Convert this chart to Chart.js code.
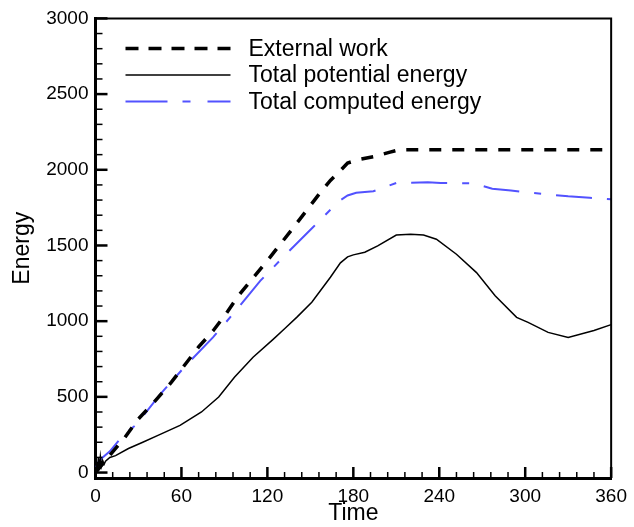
<!DOCTYPE html>
<html lang="en">

<head>
    <meta charset="UTF-8">
    <title>Energy vs Time</title>
    <script src="https://cdn.jsdelivr.net/npm/chart.js"></script>
    <style>
        body {
            margin: 0;
            background: #fff;
        }

        #chart {
            display: block;
        }
    </style>
</head>

<body>
    <canvas id="chart" width="634" height="527"></canvas>

    <script>
        // tick labels
        const xTicks = [0, 60, 120, 180, 240, 300, 360];
        const yTicks = [0, 500, 1000, 1500, 2000, 2500, 3000];

        // External work (black dashed)
        const workTime = [0, 10, 20, 30, 41, 53, 62, 72, 82, 91, 100, 121, 139, 157, 164, 170, 176, 184, 195, 205, 212, 240, 300, 360];
        const workEnergy = [0, 115, 225, 355, 466, 597, 707, 830, 935, 1047, 1171, 1412, 1628, 1850, 1930, 1985, 2045, 2068, 2088, 2115, 2132, 2132, 2132, 2132];

        // Total potential energy (black solid)
        const potTime = [0, 0.7, 1.3, 2, 2.7, 3.4, 4.2, 5, 6, 7, 10, 14, 23, 33, 44, 59, 74, 86, 97, 110, 124, 132, 141, 151, 164, 171, 176, 180, 188, 197, 210, 220, 229, 238, 252, 266, 279, 294, 302, 316, 330, 348, 360];
        const potEnergy = [0, 70, 15, 95, 30, 105, 45, 80, 55, 75, 100, 112, 159, 200, 247, 312, 400, 499, 630, 762, 880, 950, 1030, 1125, 1290, 1385, 1425, 1438, 1455, 1497, 1569, 1574, 1569, 1541, 1442, 1321, 1168, 1025, 992, 926, 893, 938, 977];

        // Total computed energy (blue dash-dot)
        const compTime = [0, 2, 5, 10, 20, 28, 45, 62, 82, 98, 115, 133, 152, 170, 176, 182, 194, 210, 232, 241, 264, 277, 290, 300, 312, 330, 345, 360];
        const compEnergy = [30, 70, 100, 140, 255, 312, 515, 696, 893, 1069, 1266, 1442, 1622, 1793, 1830, 1848, 1858, 1913, 1917, 1913, 1911, 1875, 1863, 1852, 1841, 1825, 1815, 1806];

        const seriesNames = ['External work', 'Total potential energy', 'Total computed energy'];

        const toPoints = (xs, ys) => xs.map((t, i) => ({ x: t, y: ys[i] }));

        Chart.defaults.font.family = '"Liberation Sans", Arial, sans-serif';
        Chart.defaults.color = '#000';

        // frame on top/right and inward tick marks
        const frameTicks = {
            id: 'frameTicks',
            afterDraw(chart) {
                const { ctx, chartArea: a, scales: { x, y } } = chart;
                ctx.save();
                ctx.strokeStyle = '#000';
                ctx.lineWidth = 2;
                ctx.beginPath();
                ctx.moveTo(a.left, a.top);
                ctx.lineTo(a.right, a.top);
                ctx.lineTo(a.right, a.bottom);
                ctx.stroke();

                for (let v = 0; v <= 360; v += 12) {
                    const px = x.getPixelForValue(v);
                    const major = v % 60 === 0;
                    ctx.lineWidth = major ? 2.5 : 1.5;
                    ctx.beginPath();
                    ctx.moveTo(px, a.bottom);
                    ctx.lineTo(px, a.bottom - (major ? 11 : 6));
                    ctx.stroke();
                }
                for (let v = 0; v <= 3000; v += 100) {
                    const py = y.getPixelForValue(v);
                    const major = v % 500 === 0;
                    ctx.lineWidth = major ? 2.5 : 1.5;
                    ctx.beginPath();
                    ctx.moveTo(a.left, py);
                    ctx.lineTo(a.left + (major ? 12 : 7), py);
                    ctx.stroke();
                }
                ctx.restore();
            }
        };

        // legend drawn inside the plot, upper left
        const innerLegend = {
            id: 'innerLegend',
            afterDraw(chart) {
                const { ctx, chartArea: a } = chart;
                ctx.save();
                ctx.font = '23px "Liberation Sans", Arial, sans-serif';
                ctx.textBaseline = 'middle';
                ctx.fillStyle = '#000';
                chart.data.datasets.forEach((ds, i) => {
                    const yy = a.top + 30 + i * 26.5;
                    ctx.strokeStyle = ds.borderColor;
                    ctx.lineWidth = ds.borderWidth;
                    ctx.setLineDash(ds.legendDash || []);
                    ctx.beginPath();
                    ctx.moveTo(a.left + 30, yy);
                    ctx.lineTo(a.left + 135, yy);
                    ctx.stroke();
                    ctx.setLineDash([]);
                    ctx.fillText(ds.label, a.left + 153, yy + 1);
                });
                ctx.restore();
            }
        };

        const config = {
            type: 'line',
            data: {
                datasets: [
                    {
                        label: seriesNames[0],
                        data: toPoints(workTime, workEnergy),
                        borderColor: '#000',
                        borderWidth: 3.5,
                        borderDash: [12, 11],
                        legendDash: [13, 10],
                        pointRadius: 0,
                        tension: 0
                    },
                    {
                        label: seriesNames[1],
                        data: toPoints(potTime, potEnergy),
                        borderColor: '#000',
                        borderWidth: 1.5,
                        pointRadius: 0,
                        tension: 0
                    },
                    {
                        label: seriesNames[2],
                        data: toPoints(compTime, compEnergy),
                        borderColor: '#5252ff',
                        borderWidth: 2,
                        borderDash: [36, 15, 7, 15],
                        legendDash: [42, 15, 8, 17],
                        pointRadius: 0,
                        tension: 0
                    }
                ]
            },
            options: {
                responsive: false,
                animation: false,
                layout: {
                    padding: { left: 0, right: 17, top: 17.5, bottom: 0 }
                },
                plugins: {
                    legend: { display: false },
                    tooltip: { enabled: false }
                },
                scales: {
                    x: {
                        type: 'linear',
                        min: 0,
                        max: 360,
                        grid: { display: false, drawTicks: false },
                        border: { display: true, color: '#000', width: 3 },
                        ticks: { font: { size: 19 }, padding: 7, maxRotation: 0, autoSkip: false, callback: v => String(v) },
                        title: { display: true, text: 'Time', font: { size: 23 }, padding: { top: 0, bottom: 0 } },
                        afterBuildTicks: (s) => { s.ticks = xTicks.map(v => ({ value: v })); },
                        afterFit: (s) => { s.height = 49; }
                    },
                    y: {
                        type: 'linear',
                        min: -36,
                        max: 3000,
                        grid: { display: false, drawTicks: false },
                        border: { display: true, color: '#000', width: 3 },
                        ticks: { font: { size: 19 }, padding: 7, autoSkip: false, callback: v => String(v) },
                        title: { display: true, text: 'Energy', font: { size: 23 }, padding: { top: 9, bottom: 0 } },
                        afterBuildTicks: (s) => { s.ticks = yTicks.map(v => ({ value: v })); },
                        afterFit: (s) => { s.width = 95.5; }
                    }
                }
            },
            plugins: [frameTicks, innerLegend]
        };

        const myChart = new Chart(document.getElementById('chart').getContext('2d'), config);
    </script>
</body>

</html>
